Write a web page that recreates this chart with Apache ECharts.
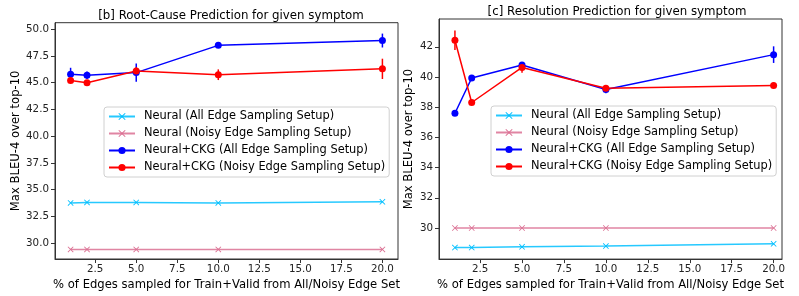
<!DOCTYPE html>
<html>
<head>
<meta charset="utf-8">
<script src="https://cdn.jsdelivr.net/npm/echarts@6/dist/echarts.min.js"></script>
<style>
  html, body { margin: 0; padding: 0; background: #fff; }
  #container { width: 799px; height: 296px; }
</style>
</head>
<body>
<div id="container"></div>
<script>
const xs = [1, 2, 5, 10, 20];
const seriesNames = [
  'Neural (All Edge Sampling Setup)',
  'Neural (Noisy Edge Sampling Setup)',
  'Neural+CKG (All Edge Sampling Setup)',
  'Neural+CKG (Noisy Edge Sampling Setup)'
];

// [b] root-cause prediction
const rcNeuralAll = [33.75, 33.8, 33.8, 33.75, 33.85];
const rcNeuralNoisy = [29.4, 29.4, 29.4, 29.4, 29.4];
const rcCkgAll = [45.8, 45.7, 45.95, 48.5, 48.95];
const rcCkgAllErr = [0.6, 0.35, 0.85, 0.15, 0.65];
const rcCkgNoisy = [45.2, 45.0, 46.1, 45.75, 46.3];
const rcCkgNoisyErr = [0.2, 0.2, 0.35, 0.5, 0.95];

// [c] resolution prediction
const resNeuralAll = [28.7, 28.7, 28.75, 28.8, 28.95];
const resNeuralNoisy = [30, 30, 30, 30, 30];
const resCkgAll = [37.6, 39.93, 40.8, 39.17, 41.48];
const resCkgAllErr = [0.05, 0.1, 0.2, 0.25, 0.55];
const resCkgNoisy = [42.43, 38.31, 40.63, 39.26, 39.43];
const resCkgNoisyErr = [0.65, 0.1, 0.35, 0.15, 0.15];

const xTicks = [2.5, 5, 7.5, 10, 12.5, 15, 17.5, 20];
const rcTicks = [30, 32.5, 35, 37.5, 40, 42.5, 45, 47.5, 50];
const resTicks = [30, 32, 34, 36, 38, 40, 42];

const font = 'DejaVu Sans';
const colors = ['#00bfff', '#db7093', '#0000ff', '#ff0000'];
const crossPath = 'path://M0,1 L1,0 L5,4 L9,0 L10,1 L6,5 L10,9 L9,10 L5,6 L1,10 L0,9 L4,5 Z';

const chart = echarts.init(document.getElementById('container'));

function xAxis(gridIndex, max) {
  return {
    type: 'value',
    gridIndex: gridIndex,
    min: 0.05,
    max: max,
    name: '% of Edges sampled for Train+Valid from All/Noisy Edge Set',
    nameLocation: 'middle',
    nameGap: 18,
    nameTextStyle: { fontFamily: font, fontSize: 11.6, color: '#000' },
    axisLine: { lineStyle: { color: '#333' } },
    axisTick: { customValues: xTicks, length: 4, lineStyle: { color: '#333' } },
    axisLabel: {
      customValues: xTicks,
      margin: 5,
      fontFamily: font, fontSize: 10.3, color: '#222',
      formatter: v => v.toFixed(1)
    },
    splitLine: { show: false }
  };
}

function yAxis(gridIndex, min, max, ticks, digits, gap) {
  return {
    type: 'value',
    gridIndex: gridIndex,
    min: min,
    max: max,
    name: 'Max BLEU-4 over top-10',
    nameLocation: 'middle',
    nameGap: gap,
    nameTextStyle: { fontFamily: font, fontSize: 11.6, color: '#000' },
    axisLine: { show: true, lineStyle: { color: '#333' } },
    axisTick: { show: true, customValues: ticks, length: 4, lineStyle: { color: '#333' } },
    axisLabel: {
      customValues: ticks,
      margin: 6,
      fontFamily: font, fontSize: 10.3, color: '#222',
      formatter: v => v.toFixed(digits)
    },
    splitLine: { show: false }
  };
}

function neuralLine(idx, vals, c, name) {
  return {
    name: name,
    type: 'line',
    xAxisIndex: idx, yAxisIndex: idx,
    data: xs.map((x, i) => [x, vals[i]]),
    symbol: crossPath,
    symbolSize: 6,
    itemStyle: { color: c },
    lineStyle: { color: c, width: 1.5, opacity: 0.85 },
    z: 2
  };
}

function ckgLine(idx, vals, c, name) {
  return {
    name: name,
    type: 'line',
    xAxisIndex: idx, yAxisIndex: idx,
    data: xs.map((x, i) => [x, vals[i]]),
    symbol: 'circle',
    symbolSize: 7,
    itemStyle: { color: c },
    lineStyle: { color: c, width: 1.5 },
    z: 3
  };
}

function errBars(idx, vals, errs, c) {
  return {
    type: 'custom',
    xAxisIndex: idx, yAxisIndex: idx,
    data: xs.map((x, i) => [x, vals[i], errs[i]]),
    encode: { x: 0, y: 1 },
    renderItem: function (params, api) {
      const x = api.value(0), y = api.value(1), e = api.value(2);
      const p1 = api.coord([x, y - e]);
      const p2 = api.coord([x, y + e]);
      return {
        type: 'line',
        shape: { x1: p1[0], y1: p1[1], x2: p2[0], y2: p2[1] },
        style: { stroke: c, lineWidth: 1.5 }
      };
    },
    z: 3
  };
}

function legend(left, top) {
  return {
    data: seriesNames,
    orient: 'vertical',
    left: left,
    top: top,
    itemWidth: 26,
    itemHeight: 9,
    itemGap: 4,
    padding: [3, 4, 3, 4],
    borderColor: '#d0d0d0',
    borderWidth: 1,
    borderRadius: 3,
    backgroundColor: 'rgba(255,255,255,0.8)',
    textStyle: { fontFamily: font, fontSize: 11.4, lineHeight: 13, color: '#000', padding: [0, 0, 0, 4] },
    selectedMode: false
  };
}

const option = {
  animation: false,
  backgroundColor: '#fff',
  title: [
    {
      text: '[b] Root-Cause Prediction for given symptom',
      left: 226, top: 5, textAlign: 'center',
      textStyle: { fontFamily: font, fontSize: 11.8, fontWeight: 'normal', color: '#000' }
    },
    {
      text: '[c] Resolution Prediction for given symptom',
      left: 612, top: 1, textAlign: 'center',
      textStyle: { fontFamily: font, fontSize: 11.8, fontWeight: 'normal', color: '#000' }
    }
  ],
  grid: [
    { left: 55, top: 22.7, width: 343, height: 236.3, show: true, borderColor: '#333', borderWidth: 1 },
    { left: 439, top: 19, width: 343, height: 244.3, show: true, borderColor: '#333', borderWidth: 1 }
  ],
  xAxis: [xAxis(0, 20.95), xAxis(1, 20.5)],
  yAxis: [
    yAxis(0, 28.5, 50.62, rcTicks, 1, 27),
    yAxis(1, 27.94, 43.84, resTicks, 0, 24)
  ],
  legend: [legend(104, 107), legend(491, 106)],
  series: [
    neuralLine(0, rcNeuralAll, colors[0], seriesNames[0]),
    neuralLine(0, rcNeuralNoisy, colors[1], seriesNames[1]),
    ckgLine(0, rcCkgAll, colors[2], seriesNames[2]),
    errBars(0, rcCkgAll, rcCkgAllErr, colors[2]),
    ckgLine(0, rcCkgNoisy, colors[3], seriesNames[3]),
    errBars(0, rcCkgNoisy, rcCkgNoisyErr, colors[3]),
    neuralLine(1, resNeuralAll, colors[0], seriesNames[0]),
    neuralLine(1, resNeuralNoisy, colors[1], seriesNames[1]),
    ckgLine(1, resCkgAll, colors[2], seriesNames[2]),
    errBars(1, resCkgAll, resCkgAllErr, colors[2]),
    ckgLine(1, resCkgNoisy, colors[3], seriesNames[3]),
    errBars(1, resCkgNoisy, resCkgNoisyErr, colors[3])
  ]
};

chart.setOption(option);
</script>
</body>
</html>
